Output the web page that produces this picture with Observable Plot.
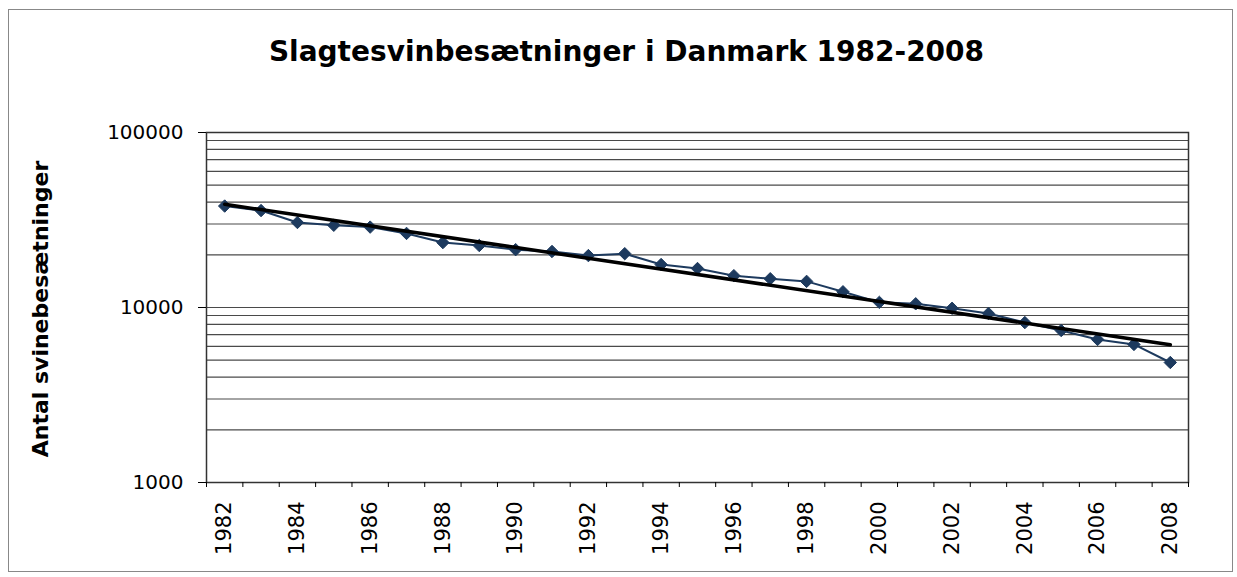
<!DOCTYPE html>
<html><head><meta charset="utf-8">
<script src="https://cdn.jsdelivr.net/npm/d3@7"></script>
<script src="https://cdn.jsdelivr.net/npm/@observablehq/plot@0.6"></script>
<style>
body{margin:0;background:#fff;width:1237px;height:577px;overflow:hidden;position:relative;font-family:"DejaVu Sans",sans-serif;color:#000}
#border{position:absolute;left:8px;top:9px;width:1225px;height:563px;border:1.5px solid #888;box-sizing:border-box}
#title{position:absolute;left:0;width:1253px;top:35px;text-align:center;font-weight:bold;font-size:28px;white-space:nowrap}
#ylabel{position:absolute;left:40px;top:309px;transform:translate(-50%,-50%) rotate(-90deg);white-space:nowrap;font-weight:bold;font-size:22px}
#chart{position:absolute;left:0;top:100px}
</style></head><body>
<div id="border"></div>
<div id="title">Slagtesvinbesætninger i Danmark 1982-2008</div>
<div id="ylabel">Antal svinebesætninger</div>
<div id="chart"></div>
<script>
const years = [1982,1983,1984,1985,1986,1987,1988,1989,1990,1991,1992,1993,1994,1995,1996,1997,1998,1999,2000,2001,2002,2003,2004,2005,2006,2007,2008];
const herds = [38000,35800,30600,29500,28800,26500,23500,22600,21400,20900,19800,20300,17600,16700,15200,14600,14100,12300,10700,10500,9900,9240,8200,7390,6570,6150,4850];
const xTickLabels = [1982,1984,1986,1988,1990,1992,1994,1996,1998,2000,2002,2004,2006,2008];
const yTickLabels = [1000,10000,100000];
const gridValues = [2000,3000,4000,5000,6000,7000,8000,9000,10000,20000,30000,40000,50000,60000,70000,80000,90000];

const data = years.map((y,i)=>({year:y, value:herds[i]}));

// exponential trend line (least squares fit of log10 values)
const n = years.length;
const mx = d3.mean(years), my = d3.mean(herds, v=>Math.log10(v));
const slope = d3.sum(years, (x,i)=>(x-mx)*(Math.log10(herds[i])-my)) / d3.sum(years, x=>(x-mx)**2);
const trend = [years[0], years[n-1]].map(x=>({year:x, value:10**(my+slope*(x-mx))}));

const boundaries = years.map(y=>y-0.5).concat([years[n-1]+0.5]);

const chart = Plot.plot({
  width: 1237,
  height: 477,
  marginLeft: 206,
  marginRight: 49,
  marginTop: 32,
  marginBottom: 95,
  style: {fontFamily: "DejaVu Sans", fontSize: "20px", color: "#000", background: "transparent"},
  x: {domain: [years[0]-0.5, years[n-1]+0.5]},
  y: {type: "log", domain: [1000, 100000]},
  marks: [
    Plot.ruleY(gridValues, {stroke: "#4a4a4a", strokeWidth: 1.2}),
    Plot.frame({stroke: "#333", strokeWidth: 1.5}),
    Plot.axisY({ticks: yTickLabels, tickSize: 8, tickPadding: 15, tickFormat: d3.format("d"), label: null, fontSize: 20, stroke: "#000"}),
    Plot.axisX({ticks: boundaries, tickSize: 5, tickFormat: () => "", label: null, stroke: "#000"}),
    Plot.axisX({ticks: xTickLabels, tickSize: 0, tickPadding: 19, tickRotate: -90, tickFormat: d => String(d), label: null, fontSize: 21}),
    Plot.line(data, {x: "year", y: "value", stroke: "#1d3a5e", strokeWidth: 2}),
    Plot.dot(data, {x: "year", y: "value", symbol: "diamond2", r: 5.6, fill: "#1d3a5e", stroke: "#1d3a5e", strokeWidth: 1}),
    Plot.line(trend, {x: "year", y: "value", stroke: "#000", strokeWidth: 3.5})
  ]
});
document.getElementById("chart").appendChild(chart);
</script>
</body></html>
